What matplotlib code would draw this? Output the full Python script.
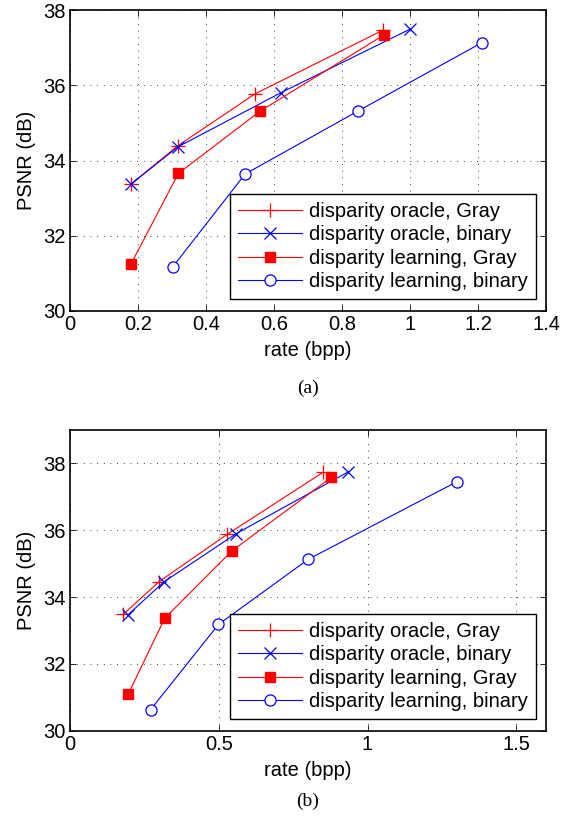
import matplotlib
matplotlib.use("Agg")
import matplotlib.pyplot as plt

plt.rcParams['font.family'] = ['Liberation Sans', 'DejaVu Sans']

labels = ["disparity oracle, Gray", "disparity oracle, binary",
          "disparity learning, Gray", "disparity learning, binary"]

# Panel (a)
a_oracle_gray_x = [0.179, 0.317, 0.544, 0.922]
a_oracle_gray_y = [33.37, 34.39, 35.77, 37.47]
a_oracle_bin_x = [0.179, 0.317, 0.620, 1.000]
a_oracle_bin_y = [33.37, 34.36, 35.80, 37.49]
a_learn_gray_x = [0.180, 0.319, 0.559, 0.924]
a_learn_gray_y = [31.26, 33.66, 35.31, 37.34]
a_learn_bin_x = [0.302, 0.515, 0.846, 1.211]
a_learn_bin_y = [31.17, 33.64, 35.31, 37.13]

# Panel (b)
b_oracle_gray_x = [0.179, 0.299, 0.529, 0.850]
b_oracle_gray_y = [33.48, 34.46, 35.88, 37.73]
b_oracle_bin_x = [0.194, 0.315, 0.559, 0.936]
b_oracle_bin_y = [33.46, 34.45, 35.90, 37.75]
b_learn_gray_x = [0.196, 0.318, 0.544, 0.878]
b_learn_gray_y = [31.10, 33.36, 35.38, 37.58]
b_learn_bin_x = [0.271, 0.499, 0.801, 1.300]
b_learn_bin_y = [30.63, 33.18, 35.13, 37.45]

a_xticks = [0, 0.2, 0.4, 0.6, 0.8, 1.0, 1.2, 1.4]
a_xticklabels = ["0", "0.2", "0.4", "0.6", "0.8", "1", "1.2", "1.4"]
b_xticks = [0, 0.5, 1.0, 1.5]
b_xticklabels = ["0", "0.5", "1", "1.5"]
yticks = [30, 32, 34, 36, 38]
yticklabels = ["30", "32", "34", "36", "38"]
captions = ["(a)", "(b)"]

fig = plt.figure(figsize=(5.61, 8.17), dpi=100)
W, H = 561, 817

def make_ax(top_px, bottom_px):
    l, r = 70, 546
    return fig.add_axes([l / W, 1 - bottom_px / H, (r - l) / W, (bottom_px - top_px) / H])

FS = 14.5

def draw(ax, data, xlim, ylim, xticks, xticklabels, caption, cap_y):
    styles = [
        dict(color='red', marker='+', markersize=10, markeredgewidth=0.9),
        dict(color='blue', marker='x', markersize=8, markeredgewidth=0.9),
        dict(color='red', marker='s', markersize=7, markerfacecolor='red', markeredgecolor='red'),
        dict(color='blue', marker='o', markersize=8, markerfacecolor='white', markeredgecolor='blue', markeredgewidth=0.9),
    ]
    for (x, y), st, lab in zip(data, styles, labels):
        ax.plot(x, y, linewidth=0.8, label=lab, **st)
    ax.set_xlim(*xlim)
    ax.set_ylim(*ylim)
    ax.set_xticks(xticks)
    ax.set_xticklabels(xticklabels)
    ax.set_yticks(yticks)
    ax.set_yticklabels(yticklabels)
    ax.tick_params(direction='in', top=True, right=True, labelsize=FS, length=4, width=0.6, pad=3)
    ax.grid(True, linestyle=(0, (1, 7)), color='black', linewidth=0.6)
    for sp in ax.spines.values():
        sp.set_linewidth(1.2)
    ax.set_xlabel('rate (bpp)', fontsize=FS, labelpad=5)
    ax.set_ylabel('PSNR (dB)', fontsize=FS, labelpad=5)
    leg = ax.legend(loc='upper right', bbox_to_anchor=(0.979, 0.389),
                    fontsize=FS, frameon=True, fancybox=False, edgecolor='black', framealpha=1,
                    handlelength=3.2, labelspacing=0.22, borderpad=0.4, handletextpad=0.35,
                    borderaxespad=0)
    leg.get_frame().set_linewidth(1.0)
    ax.text(0.5, cap_y, caption, transform=ax.transAxes,
            ha='center', va='center', fontsize=14, family='Liberation Serif')

ax1 = make_ax(10, 311)
draw(ax1, [(a_oracle_gray_x, a_oracle_gray_y), (a_oracle_bin_x, a_oracle_bin_y),
           (a_learn_gray_x, a_learn_gray_y), (a_learn_bin_x, a_learn_bin_y)],
     (0, 1.4), (30, 38), a_xticks, a_xticklabels, captions[0], -(388 - 311) / 301)

ax2 = make_ax(430, 730.7)
draw(ax2, [(b_oracle_gray_x, b_oracle_gray_y), (b_oracle_bin_x, b_oracle_bin_y),
           (b_learn_gray_x, b_learn_gray_y), (b_learn_bin_x, b_learn_bin_y)],
     (0, 1.6), (30, 39), b_xticks, b_xticklabels, captions[1], -(801 - 730.7) / 300.7)

fig.savefig('out.png', dpi=100)
